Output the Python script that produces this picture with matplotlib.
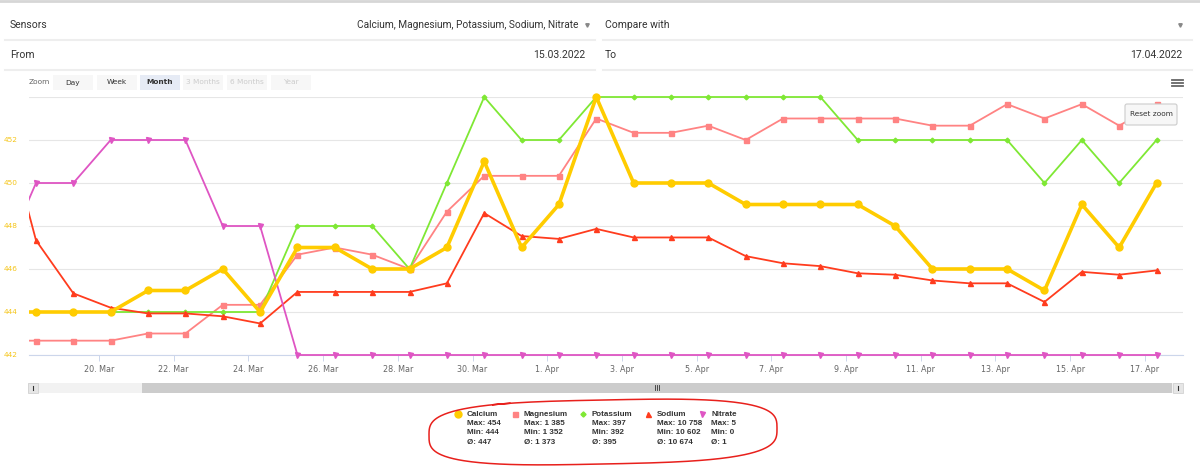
import numpy as np
import pandas as pd
import matplotlib
matplotlib.use('Agg')
import matplotlib.pyplot as plt
from matplotlib.patches import Rectangle, FancyBboxPatch
from matplotlib.ticker import FuncFormatter
import matplotlib.dates as mdates

# daily readings, 17 Mar .. 17 Apr 2022 (17 Mar sits just left of the zoomed window)
dates = pd.date_range('2022-03-17 07:30', '2022-04-17 07:30', freq='D')

calcium = [444, 444, 444, 444, 445, 445, 446, 444, 447, 447, 446, 446, 447, 451, 447, 449,
           454, 450, 450, 450, 449, 449, 449, 449, 448, 446, 446, 446, 445, 449, 447, 450]
magnesium = [1352, 1352, 1352, 1352, 1353, 1353, 1357, 1357, 1364, 1365, 1364, 1362, 1370, 1375, 1375, 1375,
             1383, 1381, 1381, 1382, 1380, 1383, 1383, 1383, 1383, 1382, 1382, 1385, 1383, 1385, 1382, 1385]
potassium = [392, 392, 392, 392, 392, 392, 392, 392, 394, 394, 394, 393, 395, 397, 396, 396,
             397, 397, 397, 397, 397, 397, 397, 396, 396, 396, 396, 396, 395, 396, 395, 396]
sodium = [10758, 10660, 10623, 10613, 10609, 10609, 10607, 10602, 10624, 10624, 10624, 10624, 10630, 10679, 10663, 10661,
          10668, 10662, 10662, 10662, 10649, 10644, 10642, 10637, 10636, 10632, 10630, 10630, 10617, 10638, 10636, 10639]
nitrate = [2, 4, 4, 5, 5, 5, 3, 3, 0, 0, 0, 0, 0, 0, 0, 0,
           0, 0, 0, 0, 0, 0, 0, 0, 0, 0, 0, 0, 0, 0, 0, 0]

# legend summary (whole period)
names = ['Calcium', 'Magnesium', 'Potassium', 'Sodium', 'Nitrate']
stat_max = ['454', '1 385', '397', '10 758', '5']
stat_min = ['444', '1 352', '392', '10 602', '0']
stat_avg = ['447', '1 373', '395', '10 674', '1']

colors = {'Calcium': '#ffcc00', 'Magnesium': '#ff8383', 'Potassium': '#7fe834',
          'Sodium': '#ff3c1e', 'Nitrate': '#df55c3'}
markers = {'Calcium': 'o', 'Magnesium': 's', 'Potassium': 'D', 'Sodium': '^', 'Nitrate': 'v'}

W, H = 1200, 469
fig = plt.figure(figsize=(W/100, H/100), dpi=100)

#background overlay in pixel coords
ov = fig.add_axes([0, 0, 1, 1])
ov.set_xlim(0, W)
ov.set_ylim(H, 0)
ov.axis('off')

ui = 'Roboto'
ov.plot([0, W], [1.5, 1.5], color='#d6d6d6', lw=2)
ov.text(10, 25, 'Sensors', fontsize=7.5, family=ui, color='#333333', va='center')
ov.text(578, 25, 'Calcium, Magnesium, Potassium, Sodium, Nitrate', fontsize=7.3, family=ui,
        color='#333333', va='center', ha='right')
ov.plot(587, 25, marker='v', ms=2.5, color='#888888')
ov.text(605, 25, 'Compare with', fontsize=7.5, family=ui, color='#333333', va='center')
ov.plot(1180, 25, marker='v', ms=2.5, color='#888888')
ov.text(10, 55, 'From', fontsize=7.5, family=ui, color='#333333', va='center')
ov.text(585, 55, '15.03.2022', fontsize=7.5, family=ui, color='#333333', va='center', ha='right')
ov.text(605, 55, 'To', fontsize=7.5, family=ui, color='#333333', va='center')
ov.text(1182, 55, '17.04.2022', fontsize=7.5, family=ui, color='#333333', va='center', ha='right')
for y in [40, 70]:
    ov.plot([5, 595], [y, y], color='#eeeeee', lw=1.5)
    ov.plot([603, 1192], [y, y], color='#eeeeee', lw=1.5)

#range selector buttons
ov.text(29, 82, 'Zoom', fontsize=5.3, color='#666666', va='center')
btns = [('Day', 53, 'n'), ('Week', 97, 'n'), ('Month', 140, 's'),
        ('3 Months', 183, 'd'), ('6 Months', 227, 'd'), ('Year', 271, 'd')]
for lbl, bx, st in btns:
    fc = '#e6ebf5' if st == 's' else '#f7f7f7'
    ov.add_patch(Rectangle((bx, 75), 40, 15, fc=fc, ec='none'))
    ov.text(bx+20, 82.5, lbl, fontsize=5.3, ha='center', va='center',
            color='#cccccc' if st == 'd' else '#333333',
            fontweight='bold' if st == 's' else 'normal')

#navigator scrollbar
ov.add_patch(Rectangle((28, 383), 1155, 10, fc='#f2f2f2', ec='none'))
ov.add_patch(Rectangle((142, 383), 1030, 10, fc='#cccccc', ec='none'))
ov.add_patch(Rectangle((28, 383), 10, 10, fc='#e6e6e6', ec='#cccccc', lw=0.5))
ov.add_patch(Rectangle((1173, 383), 10, 10, fc='#e6e6e6', ec='#cccccc', lw=0.5))
ov.plot([33, 33], [386, 390], color='#333333', lw=0.8)
ov.plot([1178, 1178], [386, 390], color='#333333', lw=0.8)
for gx in [655, 657, 659]:
    ov.plot([gx, gx], [385.5, 390.5], color='#333333', lw=0.6)

#legend
leg_x = [458, 515, 583, 648, 702]
for i, nm in enumerate(names):
    mx = leg_x[i]
    ms = 5 if nm == 'Calcium' else 3.6
    ov.plot(mx, 414, marker=markers[nm], ms=ms if markers[nm] != 'D' else 2.6,
            color=colors[nm], mec=colors[nm])
    tx = mx + 9
    lines = [nm, 'Max: ' + stat_max[i], 'Min: ' + stat_min[i], '\u00d8: ' + stat_avg[i]]
    for j, s in enumerate(lines):
        ov.text(tx, 414 + j*9.5, s, fontsize=5.8, family='Liberation Sans', fontweight='bold',
                color='#333333', va='center')

#hand-drawn red loop around the legend (starts top-left, goes round and overlaps a bit)
t = np.linspace(0.62*np.pi, 2.66*np.pi, 400)
n = 3.2
cs, sn = np.cos(t), np.sin(t)
ex = 603 + 174*np.sign(cs)*np.abs(cs)**(2/n)
ey = 432 - 32*np.sign(sn)*np.abs(sn)**(2/n) - (ex-603)*0.02
ov.plot(ex, ey, color='#e8201c', lw=1.1)

#main chart
x0, x1, ytop, ybot = 29, 1183, 97, 355
ax = fig.add_axes([x0/W, 1-ybot/H, (x1-x0)/W, (ybot-ytop)/H])
ax.patch.set_alpha(0)
xmin = pd.Timestamp('2022-03-18 03:00')
xmax = pd.Timestamp('2022-04-18 00:30')
ax.set_xlim(xmin, xmax)
ax.set_ylim(442, 454)
ax.set_yticks(range(442, 455, 2))
ax.yaxis.set_major_formatter(FuncFormatter(lambda v, p: '' if v >= 454 else '%d' % v))
ax.tick_params(axis='y', length=0, pad=8, labelsize=5.3, labelcolor='#f5c518')
ax.grid(axis='y', color='#e6e6e6', lw=0.8)
ax.set_axisbelow(True)
for s in ['top', 'right', 'left']:
    ax.spines[s].set_visible(False)
ax.spines['bottom'].set_color('#ccd6eb')
ax.spines['bottom'].set_linewidth(0.8)
xt = pd.date_range('2022-03-20', '2022-04-17', freq='2D')
ax.set_xticks(xt)
ax.xaxis.set_major_formatter(FuncFormatter(
    lambda v, p: '%d. %s' % (mdates.num2date(v).day, mdates.num2date(v).strftime('%b'))))
ax.tick_params(axis='x', length=4.5, width=0.7, color='#ccd6eb', pad=2.5,
               labelsize=5.8, labelcolor='#666666')

#each sensor on its own (hidden) y-axis, as in the original chart
axis_limits = {'Magnesium': (1350, 1386), 'Potassium': (391, 397),
               'Sodium': (10580, 10760), 'Nitrate': (0, 6), 'Calcium': (442, 454)}
series = {'Magnesium': magnesium, 'Potassium': potassium, 'Sodium': sodium,
          'Nitrate': nitrate, 'Calcium': calcium}
for nm in ['Magnesium', 'Potassium', 'Sodium', 'Nitrate', 'Calcium']:
    tw = ax.twinx()
    tw.set_ylim(*axis_limits[nm])
    tw.axis('off')
    if nm == 'Calcium':
        lw, ms = 2.6, 5
    elif nm == 'Potassium':
        lw, ms = 1.3, 2.4
    else:
        lw, ms = 1.3, 3.6
    ln, = tw.plot(dates, series[nm], color=colors[nm], lw=lw, marker=markers[nm], ms=ms,
                  mec=colors[nm], solid_joinstyle='round')
    clip = Rectangle((0, -0.06), 1, 1.12, transform=tw.transAxes, fc='none', ec='none')
    ln.set_clip_path(clip)

#foreground widgets (over the plot)
fg = fig.add_axes([0, 0, 1, 1])
fg.set_xlim(0, W)
fg.set_ylim(H, 0)
fg.axis('off')
fg.patch.set_alpha(0)
fg.add_patch(FancyBboxPatch((1125, 104), 52, 21, boxstyle='round,pad=0,rounding_size=2',
                            fc='#f7f7f7', ec='#cccccc', lw=0.8))
fg.text(1151, 114.5, 'Reset zoom', fontsize=5.3, ha='center', va='center', color='#333333')
for hy in [80, 83, 86]:
    fg.plot([1172, 1183], [hy, hy], color='#666666', lw=1.3)

fig.savefig('out.png', dpi=100)
